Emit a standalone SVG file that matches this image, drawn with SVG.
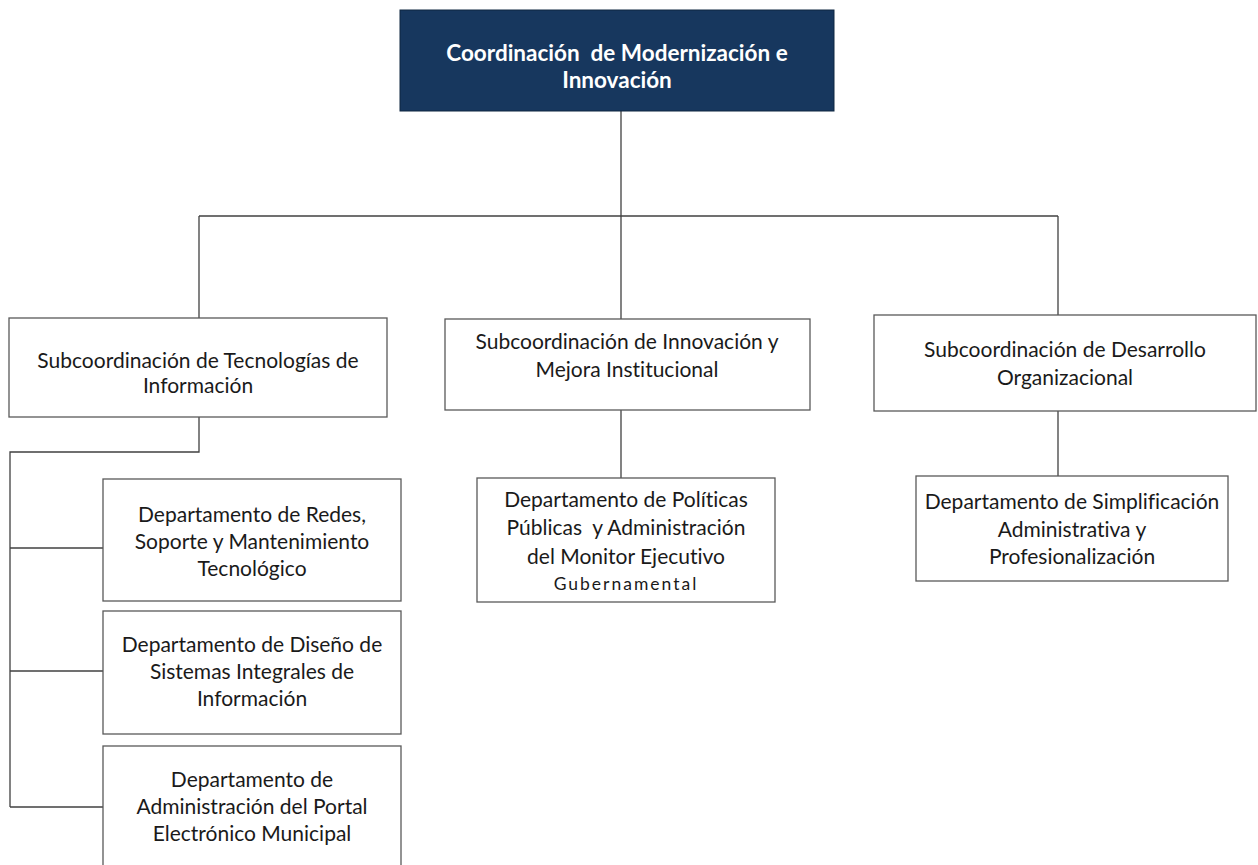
<svg xmlns="http://www.w3.org/2000/svg" width="1258" height="865" viewBox="0 0 1258 865">
<style>
.box{fill:#ffffff;stroke:#595959;stroke-width:1.3}
.top{fill:#17375e;stroke:#0f2740;stroke-width:1}
.t{font-family:Lato,"Open Sans","Liberation Sans",sans-serif;font-size:21px;fill:#1a1a1a;text-anchor:middle;font-variant-ligatures:none}
.tb{font-family:Lato,"Open Sans","Liberation Sans",sans-serif;font-size:22.5px;font-weight:bold;fill:#ffffff;text-anchor:middle;font-variant-ligatures:none}
.sm{font-size:17.5px;letter-spacing:2px}
.c{fill:none;stroke:#404040;stroke-width:1.3}
</style>
<rect width="1258" height="865" fill="#ffffff"/>
<g id="connectors">
<path class="c" d="M621 111 V216"/>
<path class="c" d="M199 216 H1058"/>
<path class="c" d="M199 216 V318"/>
<path class="c" d="M621 216 V319"/>
<path class="c" d="M1058 216 V315"/>
<path class="c" d="M199 417 V452 H10 V807"/>
<path class="c" d="M10 548 H103"/>
<path class="c" d="M10 671 H103"/>
<path class="c" d="M10 807 H103"/>
<path class="c" d="M621 410 V478"/>
<path class="c" d="M1058 411 V476"/>
</g>
<g id="n-coord">
<rect class="top" x="400" y="10" width="434" height="101"/>
<text class="tb" x="617" y="61" xml:space="preserve">Coordinación  de Modernización e</text>
<text class="tb" x="617" y="88">Innovación</text>
</g>
<g id="n-sub-ti">
<rect class="box" x="9" y="318" width="378" height="99"/>
<text class="t" x="198" y="368">Subcoordinación de Tecnologías de</text>
<text class="t" x="198" y="393">Información</text>
</g>
<g id="n-sub-inn">
<rect class="box" x="445" y="319" width="365" height="91"/>
<text class="t" x="627" y="349">Subcoordinación de Innovación y</text>
<text class="t" x="627" y="377">Mejora Institucional</text>
</g>
<g id="n-sub-des">
<rect class="box" x="874" y="315" width="382" height="96"/>
<text class="t" x="1065" y="357">Subcoordinación de Desarrollo</text>
<text class="t" x="1065" y="385">Organizacional</text>
</g>
<g id="n-dep-redes">
<rect class="box" x="103" y="479" width="298" height="122"/>
<text class="t" x="252" y="522">Departamento de Redes,</text>
<text class="t" x="252" y="549">Soporte y Mantenimiento</text>
<text class="t" x="252" y="576">Tecnológico</text>
</g>
<g id="n-dep-diseno">
<rect class="box" x="103" y="611" width="298" height="123"/>
<text class="t" x="252" y="652">Departamento de Diseño de</text>
<text class="t" x="252" y="679">Sistemas Integrales de</text>
<text class="t" x="252" y="706">Información</text>
</g>
<g id="n-dep-portal">
<rect class="box" x="103" y="746" width="298" height="130"/>
<text class="t" x="252" y="787">Departamento de</text>
<text class="t" x="252" y="814">Administración del Portal</text>
<text class="t" x="252" y="841">Electrónico Municipal</text>
</g>
<g id="n-dep-politicas">
<rect class="box" x="477" y="478" width="298" height="124"/>
<text class="t" x="626" y="507">Departamento de Políticas</text>
<text class="t" x="626" y="535" xml:space="preserve">Públicas  y Administración</text>
<text class="t" x="626" y="564">del Monitor Ejecutivo</text>
<text class="t sm" x="626" y="590">Gubernamental</text>
</g>
<g id="n-dep-simpl">
<rect class="box" x="916" y="476" width="312" height="105"/>
<text class="t" x="1072" y="509">Departamento de Simplificación</text>
<text class="t" x="1072" y="537">Administrativa y</text>
<text class="t" x="1072" y="564">Profesionalización</text>
</g>
</svg>
